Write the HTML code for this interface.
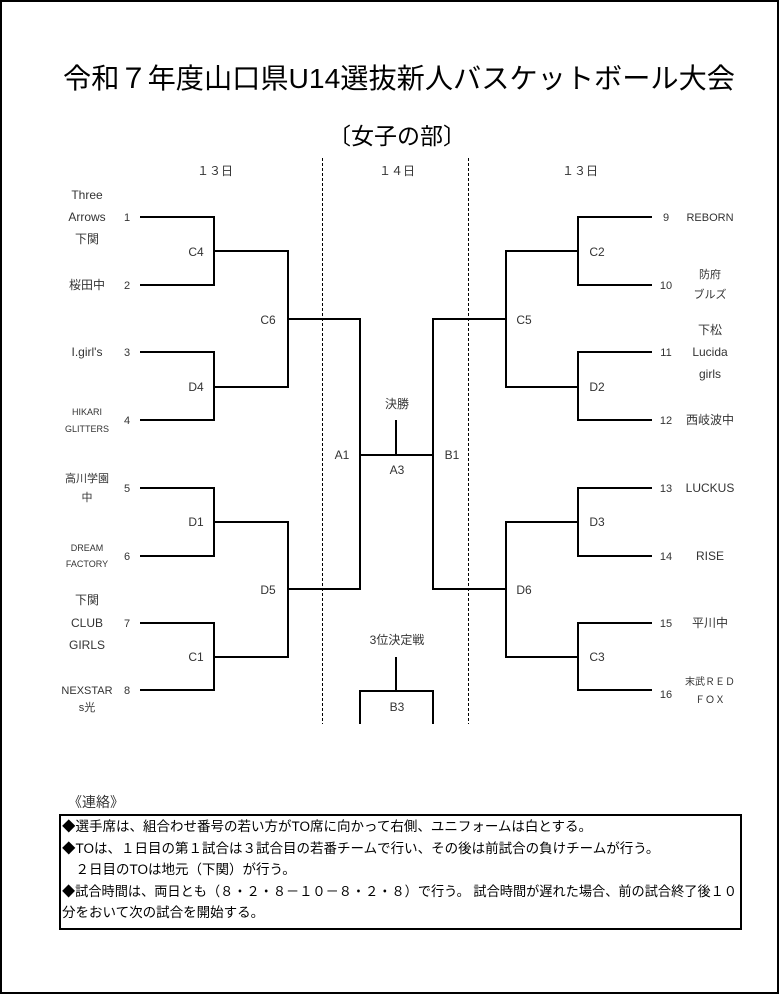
<!DOCTYPE html>
<html><head><meta charset="utf-8">
<style>
html,body{margin:0;padding:0;background:#fff;}
svg{display:block;}
text{font-family:"Liberation Sans","Noto Sans CJK JP",sans-serif;fill:#333;}
</style></head><body>
<svg width="779" height="994" viewBox="0 0 779 994" xmlns="http://www.w3.org/2000/svg">
<rect x="1" y="1" width="777" height="992" fill="none" stroke="#000" stroke-width="2"/>
<text x="63" y="88" font-size="28" style="fill:#000" textLength="672" lengthAdjust="spacingAndGlyphs">令和７年度山口県U14選抜新人バスケットボール大会</text>
<text x="397" y="144" font-size="23" text-anchor="middle" style="fill:#000">〔女子の部〕</text>
<text x="215" y="175" font-size="12" text-anchor="middle">１３日</text>
<text x="397" y="175" font-size="12" text-anchor="middle">１４日</text>
<text x="580" y="175" font-size="12" text-anchor="middle">１３日</text>
<g stroke="#000" stroke-width="1" stroke-dasharray="3,2">
<line x1="322.5" y1="158" x2="322.5" y2="724"/>
<line x1="468.5" y1="158" x2="468.5" y2="724"/>
</g>
<g stroke="#000" stroke-width="2" fill="none">
<polyline points="140,217 214,217 214,285 140,285"/>
<polyline points="140,352 214,352 214,420 140,420"/>
<polyline points="140,488 214,488 214,556 140,556"/>
<polyline points="140,623 214,623 214,690 140,690"/>
<polyline points="214,251 288,251 288,387 214,387"/>
<polyline points="214,522 288,522 288,657 214,657"/>
<polyline points="288,319 360,319 360,589 288,589"/>
<polyline points="652,217 578,217 578,285 652,285"/>
<polyline points="652,352 578,352 578,420 652,420"/>
<polyline points="652,488 578,488 578,556 652,556"/>
<polyline points="652,623 578,623 578,690 652,690"/>
<polyline points="578,251 506,251 506,387 578,387"/>
<polyline points="578,522 506,522 506,657 578,657"/>
<polyline points="506,319 433,319 433,589 506,589"/>
<line x1="360" y1="455" x2="433" y2="455"/>
<line x1="396" y1="420" x2="396" y2="455"/>
<line x1="396" y1="657" x2="396" y2="691"/>
<polyline points="360,724 360,691 433,691 433,724"/>
</g>
<g font-size="12" text-anchor="middle">
<text x="87" y="199">Three</text><text x="87" y="221">Arrows</text><text x="87" y="243">下関</text>
<text x="87" y="289">桜田中</text>
<text x="87" y="356">I.girl's</text>
<text x="87" y="415" font-size="9">HIKARI</text><text x="87" y="432" font-size="9">GLITTERS</text>
<text x="87" y="482" font-size="11">高川学園</text><text x="87" y="501" font-size="11">中</text>
<text x="87" y="551" font-size="9">DREAM</text><text x="87" y="567" font-size="9">FACTORY</text>
<text x="87" y="604">下関</text><text x="87" y="627">CLUB</text><text x="87" y="649">GIRLS</text>
<text x="87" y="694" font-size="11">NEXSTAR</text><text x="87" y="711" font-size="11">s光</text>
<text x="127" y="221" font-size="11">1</text><text x="127" y="289" font-size="11">2</text>
<text x="127" y="356" font-size="11">3</text><text x="127" y="424" font-size="11">4</text>
<text x="127" y="492" font-size="11">5</text><text x="127" y="560" font-size="11">6</text>
<text x="127" y="627" font-size="11">7</text><text x="127" y="694" font-size="11">8</text>
<text x="196" y="256">C4</text><text x="196" y="391">D4</text><text x="196" y="526">D1</text><text x="196" y="661">C1</text>
<text x="268" y="324">C6</text><text x="268" y="594">D5</text>
<text x="342" y="459">A1</text><text x="397" y="474">A3</text><text x="452" y="459">B1</text>
<text x="397" y="408">決勝</text><text x="397" y="644">3位決定戦</text><text x="397" y="711">B3</text>
<text x="597" y="256">C2</text><text x="597" y="391">D2</text><text x="597" y="526">D3</text><text x="597" y="661">C3</text>
<text x="524" y="324">C5</text><text x="524" y="594">D6</text>
<text x="666" y="221" font-size="11">9</text><text x="666" y="289" font-size="11">10</text>
<text x="666" y="356" font-size="11">11</text><text x="666" y="424" font-size="11">12</text>
<text x="666" y="492" font-size="11">13</text><text x="666" y="560" font-size="11">14</text>
<text x="666" y="627" font-size="11">15</text><text x="666" y="698" font-size="11">16</text>
<text x="710" y="221" font-size="11">REBORN</text>
<text x="710" y="278" font-size="11">防府</text><text x="710" y="298" font-size="11">ブルズ</text>
<text x="710" y="334">下松</text><text x="710" y="356">Lucida</text><text x="710" y="378">girls</text>
<text x="710" y="424">西岐波中</text>
<text x="710" y="492">LUCKUS</text>
<text x="710" y="560">RISE</text>
<text x="710" y="627">平川中</text>
<text x="710" y="685" font-size="10">末武ＲＥＤ</text><text x="710" y="703" font-size="10">ＦＯＸ</text>
</g>
<text x="68" y="807" font-size="14">《連絡》</text>
<rect x="60" y="815" width="681" height="114" fill="none" stroke="#000" stroke-width="2"/>
<g font-size="13.5">
<text x="62" y="831" style="fill:#000">◆選手席は、組合わせ番号の若い方がTO席に向かって右側、ユニフォームは白とする。</text>
<text x="62" y="853" style="fill:#000">◆TOは、１日目の第１試合は３試合目の若番チームで行い、その後は前試合の負けチームが行う。</text>
<text x="62" y="874" style="fill:#000">　２日目のTOは地元（下関）が行う。</text>
<text x="62" y="896" style="fill:#000" textLength="675" lengthAdjust="spacingAndGlyphs">◆試合時間は、両日とも（８・２・８－１０－８・２・８）で行う。 試合時間が遅れた場合、前の試合終了後１０</text>
<text x="62" y="917" style="fill:#000">分をおいて次の試合を開始する。</text>
</g>
</svg>
</body></html>
